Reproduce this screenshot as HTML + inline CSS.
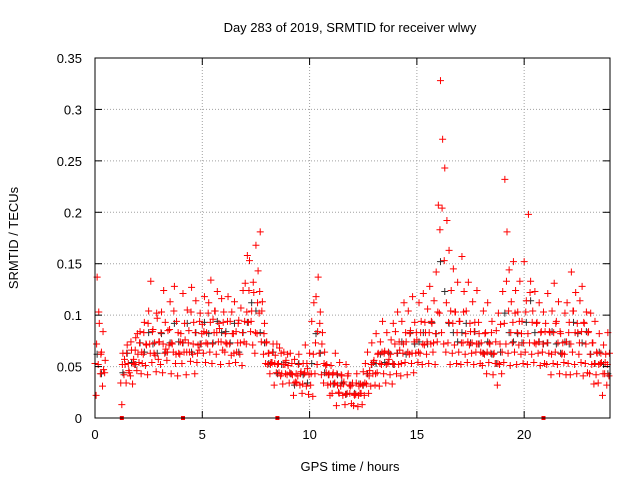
<!DOCTYPE html>
<html><head><meta charset="utf-8"><style>
html,body{margin:0;padding:0;background:#fff;}
svg{display:block;font-family:"Liberation Sans",sans-serif;}
</style></head><body>
<svg id="chart" width="640" height="480" viewBox="0 0 640 480" xmlns="http://www.w3.org/2000/svg">
<rect width="640" height="480" fill="#fff"/>
<text x="350" y="32" font-size="13" text-anchor="middle">Day 283 of 2019, SRMTID for receiver wlwy</text>
<text x="350" y="471" font-size="13" text-anchor="middle">GPS time / hours</text>
<text transform="translate(18,238) rotate(-90)" font-size="13" text-anchor="middle">SRMTID / TECUs</text>
<g id="grid"></g>
<g id="marks"></g>
<g id="axes"></g>
</svg>
<script>
const xTicks=[0,5,10,15,20];
const yTicks=[0,0.05,0.1,0.15,0.2,0.25,0.3,0.35];
const yTickLabels=["0","0.05","0.1","0.15","0.2","0.25","0.3","0.35"];
const N=null;
const seriesA=[
.053,.137,.092,.064,.047,N,N,N,N,N, N,N,.034,.063,.052,.071,.044,.066,.057,.078,
.062,.084,.053,.093,.071,.104,.133,.086,.061,.097, .074,.103,.124,.067,.085,.113,.072,.128,.094,.063,
.082,.121,.076,.105,.064,.127,.093,.114,.071,.102, .091,.118,.083,.112,.134,.096,.104,.123,.087,.116,
.103,.073,.118,.094,.082,.113,.064,.095,.107,.124, .131,.158,.153,.104,.122,.168,.143,.181,.113,.092,
.074,.063,.054,.072,.061,.052,.068,.043,.064,.056, .051,.063,.042,.057,.034,.062,.045,.053,.071,.048,
.063,.094,.112,.118,.137,.103,.083,.064,.052,.043, .051,.044,.063,.032,.054,.041,.035,.052,.043,.031,
.034,.022,.043,.031,.024,.045,.053,.064,.046,.073, .056,.082,.063,.074,.094,.065,.083,.057,.076,.092,
.084,.103,.066,.094,.112,.074,.104,.085,.118,.093, .076,.112,.094,.121,.083,.106,.128,.092,.114,.142,
.207,.328,.271,.243,.192,.163,.124,.145,.103,.132, .094,.157,.123,.104,.132,.084,.113,.093,.124,.082,
.073,.104,.083,.112,.072,.094,.063,.085,.102,.091, .123,.232,.181,.144,.113,.152,.124,.103,.133,.094,
.152,.114,.198,.133,.104,.123,.093,.112,.084,.103, .092,.121,.083,.104,.131,.094,.113,.082,.073,.102,
.112,.093,.142,.104,.122,.083,.114,.128,.092,.103, .084,.102,.073,.094,.063,.082,.054,.071,.062,.083];
const seriesB=[
.022,.052,.043,.031,.044,N,N,N,N,N, N,N,.013,.042,.034,.053,.041,.033,.052,.046,
.054,.043,.062,.051,.042,.072,.054,.063,.045,.057, .052,.044,.063,.056,.071,.043,.064,.053,.041,.062,
.053,.064,.042,.073,.055,.062,.043,.054,.066,.072, .063,.054,.072,.064,.053,.083,.062,.074,.052,.066,
.064,.072,.053,.061,.082,.054,.073,.062,.051,.074, .072,.093,.084,.071,.063,.082,.102,.074,.062,.053,
.052,.043,.054,.032,.044,.053,.041,.033,.052,.042, .034,.043,.022,.035,.041,.032,.024,.043,.031,.023,
.032,.021,.043,.052,.063,.042,.034,.051,.032,.022, .024,.033,.012,.025,.031,.022,.013,.024,.032,.014,
.012,.023,.011,.024,.013,.022,.033,.024,.031,.043, .032,.044,.031,.052,.043,.034,.053,.042,.033,.052,
.043,.052,.041,.063,.054,.042,.062,.053,.044,.063, .054,.063,.052,.071,.062,.053,.072,.064,.052,.074,
.102,.083,.072,.064,.073,.052,.063,.071,.053,.064, .052,.073,.062,.054,.071,.063,.052,.064,.072,.053,
.051,.062,.043,.054,.063,.042,.053,.032,.052,.043, .054,.072,.063,.051,.073,.064,.052,.071,.062,.053,
.064,.052,.073,.062,.054,.072,.063,.051,.064,.053, .052,.063,.042,.053,.064,.052,.043,.062,.054,.042,
.053,.042,.064,.052,.043,.062,.054,.041,.053,.044, .043,.052,.033,.042,.034,.053,.022,.043,.032,.041];
const seriesC=[
.072,.103,.062,.084,.056,N,N,N,N,N, N,N,.052,.057,.063,.046,.074,.053,.066,.082,
.073,.064,.083,.072,.092,.063,.084,.073,.102,.074, .083,.072,.093,.064,.086,.073,.104,.062,.083,.074,
.073,.092,.064,.085,.103,.072,.083,.063,.094,.082, .084,.073,.102,.093,.072,.104,.083,.092,.074,.093,
.082,.094,.072,.103,.063,.084,.092,.073,.083,.094, .103,.124,.094,.132,.083,.112,.123,.104,.082,.073,
.063,.052,.064,.053,.072,.044,.063,.052,.043,.062, .044,.053,.034,.043,.052,.043,.033,.044,.053,.042,
.043,.062,.073,.084,.092,.072,.053,.044,.042,.033, .042,.034,.043,.024,.042,.033,.023,.041,.024,.032,
.023,.034,.022,.033,.032,.034,.043,.041,.052,.054, .043,.062,.053,.064,.063,.052,.064,.062,.053,.072,
.063,.074,.053,.072,.083,.064,.082,.063,.074,.083, .064,.083,.072,.093,.074,.083,.094,.073,.082,.103,
.183,.204,.153,.112,.093,.104,.092,.103,.083,.094, .073,.103,.082,.074,.092,.073,.084,.072,.093,.064,
.063,.082,.064,.073,.083,.062,.074,.053,.072,.064, .092,.133,.104,.083,.093,.102,.083,.094,.082,.073,
.103,.082,.122,.093,.073,.092,.074,.083,.072,.084, .073,.084,.062,.083,.092,.073,.084,.063,.062,.074,
.083,.072,.104,.083,.092,.073,.084,.093,.072,.083, .062,.073,.053,.064,.052,.063,.043,.054,.052,.063];
const seriesBlack=[
.062,.043,N,N,N, N,.044,.063,.054,.052, .073,.064,.083,.072,.063, .082,.064,.073,.092,.074,
.073,.092,.064,.083,.072, .093,.082,.073,.094,.083, .084,.073,.092,.064,.083, .093,.112,.104,.083,.073,
.053,.064,.043,.052,.054, .043,.032,.053,.042,.034, .053,.082,.063,.044,.042, .033,.042,.034,.023,.032,
.024,.033,.032,.043,.052, .053,.062,.054,.063,.052, .063,.074,.062,.083,.072, .074,.083,.072,.093,.082,
.152,.123,.092,.083,.074, .083,.092,.073,.084,.072, .063,.074,.062,.053,.064, .102,.083,.074,.082,.073,
.093,.114,.083,.074,.072, .073,.084,.072,.063,.074, .072,.093,.082,.073,.084, .062,.053,.064,.052,.043];
const zeroMarks=[1.25,4.1,8.5,20.9];

const L=95,R=610,T=58,B=418;
const xs=h=>L+(h/24)*(R-L);
const ys=v=>B-(v/0.35)*(B-T);
const NS="http://www.w3.org/2000/svg";
function mk(tag,parent,attrs){const e=document.createElementNS(NS,tag);for(const k in attrs)e.setAttribute(k,attrs[k]);parent.appendChild(e);return e;}
const grid=document.getElementById('grid'),marks=document.getElementById('marks'),axes=document.getElementById('axes');

yTicks.forEach((v,i)=>{
  const y=ys(v);
  if(i>0&&i<yTicks.length-1){const g=mk('line',grid,{x1:L,x2:R,y1:y,y2:y,stroke:'#a0a0a0','stroke-width':1,'stroke-dasharray':'1,2'});
  
  }
  mk('line',axes,{x1:L,x2:L+7,y1:y,y2:y,stroke:'#000'});
  mk('line',axes,{x1:R-7,x2:R,y1:y,y2:y,stroke:'#000'});
  const t=mk('text',axes,{x:L-13,y:y+5,'font-size':13,'text-anchor':'end'});t.textContent=yTickLabels[i];
  
  
});
xTicks.forEach(h=>{
  const x=xs(h);
  if(h>0){const g=mk('line',grid,{x1:x,x2:x,y1:T,y2:B,stroke:'#a0a0a0','stroke-width':1,'stroke-dasharray':'1,2'});
  
  }
  mk('line',axes,{x1:x,x2:x,y1:B,y2:B-7,stroke:'#000'});
  mk('line',axes,{x1:x,x2:x,y1:T,y2:T+7,stroke:'#000'});
  const t=mk('text',axes,{x:x,y:B+21,'font-size':13,'text-anchor':'middle'});t.textContent=String(h);
  
  
});
const frame=mk('rect',axes,{x:L,y:T,width:R-L,height:B-T,fill:'none',stroke:'#000'});



function plus(x,y,color){
  const p=mk('path',marks,{d:`M${x-3.5},${y}h7M${x},${y-3.5}v7`,stroke:color,'stroke-width':1,fill:'none'});
  
  
}
seriesBlack.forEach((v,i)=>{if(v!==null)plus(xs(i*0.2+0.1),ys(v),'#303030');});
seriesB.forEach((v,i)=>{if(v!==null)plus(xs(i*0.1+0.05),ys(v),'#f00');});
seriesC.forEach((v,i)=>{if(v!==null)plus(xs(i*0.1+0.075),ys(v),'#f00');});
seriesA.forEach((v,i)=>{if(v!==null)plus(xs(i*0.1),ys(v),'#f00');});
zeroMarks.forEach(h=>{
  const r=mk('rect',marks,{x:xs(h)-2,y:B-2,width:4,height:4,fill:'#f00'});
  
  
});
</script>
</body></html>
